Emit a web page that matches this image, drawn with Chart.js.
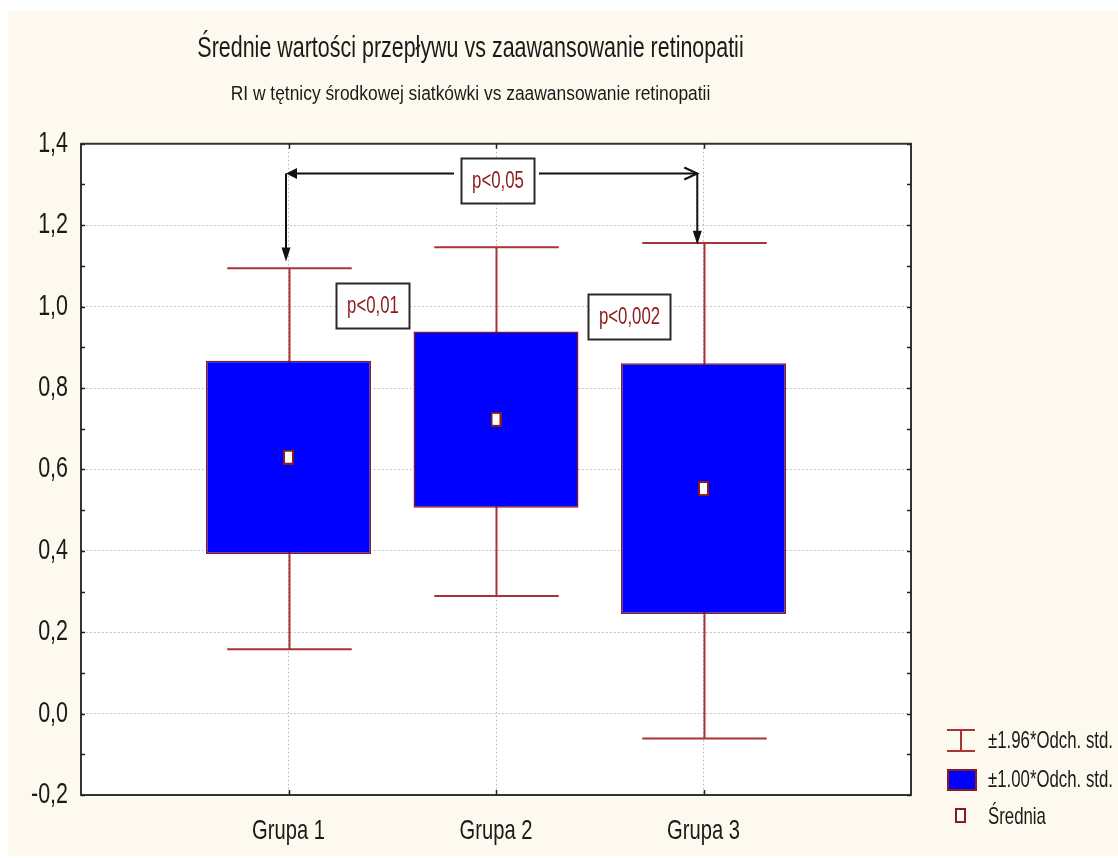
<!DOCTYPE html>
<html>
<head>
<meta charset="utf-8">
<title>RI w tętnicy środkowej siatkówki</title>
<script src="https://cdn.jsdelivr.net/npm/chart.js@4.4.1/dist/chart.umd.min.js"></script>
<style>
  html, body { margin: 0; padding: 0; background: #ffffff; }
  #wrap { width: 1118px; height: 858px; }
</style>
</head>
<body>
<div id="wrap"><canvas id="chart" width="1118" height="858"></canvas></div>
<script>
// Groups on the horizontal axis
const groups = ['Grupa 1', 'Grupa 2', 'Grupa 3'];
const groupPos = [1, 2, 3];

// RI mean and spread per group
const means     = [0.630, 0.723, 0.553];
const sd1Low    = [0.392, 0.506, 0.245];
const sd1High   = [0.867, 0.939, 0.861];
const sd196Low  = [0.158, 0.289, -0.061];
const sd196High = [1.094, 1.146, 1.156];

// Value axis ticks
const yTickValues  = [-0.2, 0.0, 0.2, 0.4, 0.6, 0.8, 1.0, 1.2, 1.4];
const yMinorValues = [-0.1, 0.1, 0.3, 0.5, 0.7, 0.9, 1.1, 1.3];

// Significance labels
const pLabels = ['p<0,05', 'p<0,01', 'p<0,002'];

// Key entries
const keyLabels = ['±1.96*Odch. std.', '±1.00*Odch. std.', 'Średnia'];

const FONT = "'Liberation Sans', Arial, sans-serif";
const DARK_RED = '#8b1a1a';
const WHISKER = '#a83434';
const TEXT = '#1a1a1a';

// Narrow lettering: horizontal squeeze per font size (px -> factor)
const STRETCH = { '29': 0.74, '28': 0.72, '20': 0.87, '23': 0.73, '24': 0.70 };
function stretchFor(font) {
  const m = /(\d+(?:\.\d+)?)px/.exec(font);
  return (m && STRETCH[m[1]]) || 1;
}

const canvas = document.getElementById('chart');
(function narrowText(c) {
  const ctx = c.getContext('2d');
  const nativeFill = ctx.fillText;
  ctx.fillText = function (text, x, y, maxWidth) {
    const sx = stretchFor(this.font);
    this.save();
    this.translate(x, y);
    this.scale(sx, 1);
    if (maxWidth === undefined || maxWidth === null) {
      nativeFill.call(this, text, 0, 0);
    } else {
      nativeFill.call(this, text, 0, 0, maxWidth / sx);
    }
    this.restore();
  };
})(canvas);

const fmt = v => (Math.round(v * 10) / 10).toFixed(1).replace('.', ',');

// Mean marker: small white rectangle with dark red outline
function makeMeanIcon(w, h) {
  const c = document.createElement('canvas');
  c.width = w; c.height = h;
  const g = c.getContext('2d');
  g.fillStyle = DARK_RED;
  g.fillRect(0, 0, w, h);
  g.fillStyle = '#ffffff';
  g.fillRect(2, 2, w - 4, h - 4);
  return c;
}
const meanIcon = makeMeanIcon(11, 15);

// Where the annotation boxes and the bracket sit (data units)
const pBoxes = [
  { text: pLabels[0], x: 2.005, y: 1.310 },
  { text: pLabels[1], x: 1.404, y: 1.003 },
  { text: pLabels[2], x: 2.643, y: 0.975 }
];
const bracket = { y: 1.328, xLeft: 0.988, xRight: 2.970, tipLeft: 1.111, tipRight: 1.152 };

const backgroundPlugin = {
  id: 'backgroundPlugin',
  beforeDraw(chart) {
    const { ctx, chartArea: a, width, height } = chart;
    ctx.save();
    ctx.fillStyle = '#ffffff';
    ctx.fillRect(0, 0, width, height);
    ctx.fillStyle = '#fef9ee';
    ctx.fillRect(8, 11, width - 8, height - 13);
    ctx.fillStyle = '#ffffff';
    ctx.fillRect(a.left, a.top, a.right - a.left, a.bottom - a.top);
    ctx.restore();
  }
};

// ±1.96 SD whiskers, drawn beneath the boxes
const whiskerPlugin = {
  id: 'whiskerPlugin',
  beforeDatasetsDraw(chart) {
    const { ctx, scales: { x, y } } = chart;
    const capHalf = x.getPixelForValue(1.3) - x.getPixelForValue(1);
    ctx.save();
    ctx.strokeStyle = WHISKER;
    ctx.lineWidth = 2;
    groupPos.forEach((g, i) => {
      const px = Math.round(x.getPixelForValue(g)) + 0.5;
      const top = y.getPixelForValue(sd196High[i]);
      const bot = y.getPixelForValue(sd196Low[i]);
      ctx.beginPath();
      ctx.moveTo(px, top); ctx.lineTo(px, bot);
      ctx.moveTo(px - capHalf, top); ctx.lineTo(px + capHalf, top);
      ctx.moveTo(px - capHalf, bot); ctx.lineTo(px + capHalf, bot);
      ctx.stroke();
    });
    ctx.restore();
  }
};

// Closed frame with inward tick marks
const framePlugin = {
  id: 'framePlugin',
  afterDatasetsDraw(chart) {
    const { ctx, chartArea: a, scales: { x, y } } = chart;
    ctx.save();
    ctx.strokeStyle = '#333333';
    ctx.lineWidth = 2;
    ctx.beginPath();
    ctx.moveTo(a.left, a.top); ctx.lineTo(a.right, a.top); ctx.lineTo(a.right, a.bottom);
    ctx.stroke();
    ctx.lineWidth = 1.5;
    ctx.strokeStyle = '#222222';
    ctx.beginPath();
    yTickValues.concat(yMinorValues).forEach(v => {
      const py = Math.round(y.getPixelForValue(v)) + 0.5;
      ctx.moveTo(a.left, py); ctx.lineTo(a.left + 4, py);
      ctx.moveTo(a.right, py); ctx.lineTo(a.right - 4, py);
    });
    groupPos.forEach(g => {
      const px = Math.round(x.getPixelForValue(g)) + 0.5;
      ctx.moveTo(px, a.top); ctx.lineTo(px, a.top + 5);
      ctx.moveTo(px, a.bottom); ctx.lineTo(px, a.bottom - 5);
    });
    ctx.stroke();
    ctx.restore();
  }
};

function filledHead(ctx, tipX, tipY, dir, len, half) {
  ctx.beginPath();
  if (dir === 'down') {
    ctx.moveTo(tipX, tipY);
    ctx.lineTo(tipX - half, tipY - len);
    ctx.lineTo(tipX + half, tipY - len);
  } else {
    ctx.moveTo(tipX, tipY);
    ctx.lineTo(tipX + len, tipY - half);
    ctx.lineTo(tipX + len, tipY + half);
  }
  ctx.closePath();
  ctx.fill();
}

// Significance bracket and p-value boxes
const annotationPlugin = {
  id: 'annotationPlugin',
  afterDatasetsDraw(chart) {
    const { ctx, scales: { x, y } } = chart;
    ctx.save();
    ctx.font = `23px ${FONT}`;
    const sx = stretchFor(ctx.font);
    const boxes = pBoxes.map(b => {
      const w = Math.round(ctx.measureText(b.text).width * sx + 21);
      const h = 45;
      const cx = x.getPixelForValue(b.x), cy = y.getPixelForValue(b.y);
      return { text: b.text, left: Math.round(cx - w / 2), top: Math.round(cy - h / 2), w, h, cx, cy };
    });

    const by = Math.round(y.getPixelForValue(bracket.y)) + 0.5;
    const xl = x.getPixelForValue(bracket.xLeft);
    const xr = x.getPixelForValue(bracket.xRight);
    const main = boxes[0];
    ctx.strokeStyle = '#111111';
    ctx.fillStyle = '#111111';
    ctx.lineWidth = 2;
    ctx.beginPath();
    ctx.moveTo(xl + 6, by); ctx.lineTo(main.left - 7, by);
    ctx.moveTo(main.left + main.w + 5, by); ctx.lineTo(xr - 1, by);
    // verticals down to the whisker caps
    const tl = y.getPixelForValue(bracket.tipLeft);
    const tr = y.getPixelForValue(bracket.tipRight);
    ctx.moveTo(xl, by); ctx.lineTo(xl, tl - 10);
    ctx.moveTo(xr, by); ctx.lineTo(xr, tr - 10);
    ctx.stroke();
    // open chevron on the right end
    ctx.beginPath();
    ctx.moveTo(xr - 13, by - 6); ctx.lineTo(xr, by); ctx.lineTo(xr - 13, by + 6);
    ctx.stroke();
    filledHead(ctx, xl, by, 'left', 11, 5.5);
    filledHead(ctx, xl, tl, 'down', 14, 4.5);
    filledHead(ctx, xr, tr, 'down', 14, 4.5);

    boxes.forEach(b => {
      ctx.fillStyle = '#ffffff';
      ctx.fillRect(b.left, b.top, b.w, b.h);
      ctx.strokeStyle = '#2a2a2a';
      ctx.lineWidth = 2;
      ctx.strokeRect(b.left + 0.5, b.top + 0.5, b.w, b.h);
      ctx.fillStyle = DARK_RED;
      ctx.textAlign = 'center';
      ctx.textBaseline = 'middle';
      ctx.fillText(b.text, b.left + b.w / 2 + 0.5, b.top + b.h / 2 + 1);
    });
    ctx.restore();
  }
};

// Key in the lower right corner
const keyPlugin = {
  id: 'keyPlugin',
  afterDraw(chart) {
    const { ctx } = chart;
    ctx.save();
    // ±1.96 SD whisker symbol
    ctx.strokeStyle = WHISKER;
    ctx.lineWidth = 2;
    ctx.beginPath();
    ctx.moveTo(947, 730); ctx.lineTo(975, 730);
    ctx.moveTo(947, 751); ctx.lineTo(975, 751);
    ctx.moveTo(961, 730); ctx.lineTo(961, 751);
    ctx.stroke();
    // ±1.00 SD box symbol
    ctx.fillStyle = DARK_RED;
    ctx.fillRect(947, 769, 30, 22);
    ctx.fillStyle = '#0000ff';
    ctx.fillRect(949, 771, 26, 18);
    // mean symbol
    ctx.drawImage(meanIcon, 955, 808);
    ctx.fillStyle = TEXT;
    ctx.font = `24px ${FONT}`;
    ctx.textAlign = 'left';
    ctx.textBaseline = 'middle';
    ctx.fillText(keyLabels[0], 988, 741);
    ctx.fillText(keyLabels[1], 988, 780);
    ctx.fillText(keyLabels[2], 988, 817);
    ctx.restore();
  }
};

new Chart(canvas, {
  type: 'bar',
  data: {
    datasets: [
      {
        type: 'bar',
        label: keyLabels[1],
        data: groupPos.map((g, i) => ({ x: g, y: [sd1Low[i], sd1High[i]] })),
        backgroundColor: '#0000ff',
        borderColor: DARK_RED,
        borderWidth: 1.5,
        borderSkipped: false,
        barPercentage: 0.795,
        categoryPercentage: 1,
        order: 2
      },
      {
        type: 'scatter',
        label: keyLabels[2],
        data: groupPos.map((g, i) => ({ x: g, y: means[i] })),
        pointStyle: meanIcon,
        pointRadius: 7,
        order: 1
      }
    ]
  },
  options: {
    responsive: false,
    animation: false,
    events: [],
    layout: { padding: { left: 30, right: 207, top: 0, bottom: 0 } },
    plugins: {
      legend: { display: false },
      tooltip: { enabled: false },
      title: {
        display: true,
        text: 'Średnie wartości przepływu vs zaawansowanie retinopatii',
        color: TEXT,
        font: { family: FONT, size: 29, weight: 'normal' },
        padding: { top: 32, bottom: 0 }
      },
      subtitle: {
        display: true,
        text: 'RI w tętnicy środkowej siatkówki vs zaawansowanie retinopatii',
        color: TEXT,
        font: { family: FONT, size: 20, weight: 'normal' },
        padding: { top: 16, bottom: 37 }
      }
    },
    scales: {
      x: {
        type: 'linear',
        min: 0,
        max: 4,
        offset: false,
        afterBuildTicks: s => { s.ticks = groupPos.map(v => ({ value: v })); },
        afterFit: s => { s.height = 63; },
        ticks: {
          callback: (v, i) => groups[i],
          color: TEXT,
          font: { family: FONT, size: 28 },
          padding: 19,
          maxRotation: 0
        },
        grid: { color: '#b4b4b4', lineWidth: 1, drawTicks: false, offset: false },
        border: { display: true, color: '#333333', width: 2, dash: [1.5, 2.5] }
      },
      y: {
        type: 'linear',
        min: -0.2,
        max: 1.4,
        afterBuildTicks: s => { s.ticks = yTickValues.map(v => ({ value: v })); },
        afterFit: s => { s.width = 51; },
        ticks: {
          callback: v => fmt(v),
          color: TEXT,
          font: { family: FONT, size: 29 },
          padding: 13
        },
        grid: { color: '#b4b4b4', lineWidth: 1, drawTicks: false },
        border: { display: true, color: '#333333', width: 2, dash: [1.5, 2.5] }
      }
    }
  },
  plugins: [backgroundPlugin, whiskerPlugin, framePlugin, annotationPlugin, keyPlugin]
});
</script>
</body>
</html>
